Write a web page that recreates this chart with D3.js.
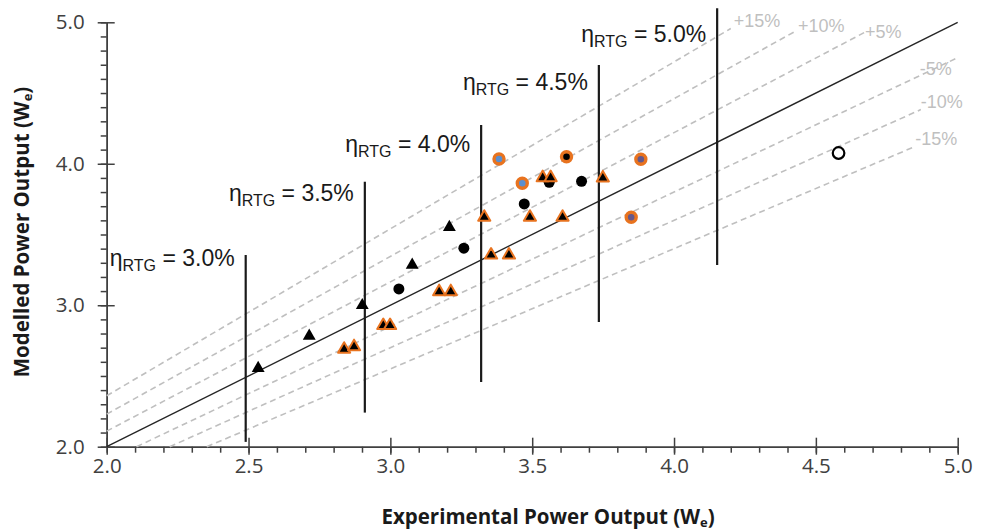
<!DOCTYPE html>
<html>
<head>
<meta charset="utf-8">
<script src="https://cdn.jsdelivr.net/npm/d3@7"></script>
<style>
  body { margin: 0; background: #fff; }
  svg { display: block; }
  .axis text { font-family: "Open Sans", sans-serif; font-size: 20.5px; fill: #404040; }
  .axis line, .axis path { stroke: #404040; stroke-width: 1.5; }
  .title { font-family: "Open Sans", sans-serif; font-size: 20.5px; font-weight: bold; fill: #1a1a1a; }
  .eta { font-family: "Liberation Sans", Arial, sans-serif; font-size: 23px; fill: #1a1a1a; }
  .pct { font-family: "Liberation Sans", Arial, sans-serif; font-size: 18px; fill: #bfbfbf; }
</style>
</head>
<body>
<div id="chart"></div>
<script>
// ---- data (x = experimental, y = modelled, in We) ----
var blackTriangles = [[2.534, 2.555], [2.714, 2.783], [2.901, 2.999], [3.077, 3.285], [3.208, 3.551]];
var blackCircles = [[3.030, 3.115], [3.259, 3.403], [3.472, 3.716], [3.560, 3.869], [3.674, 3.876]];
var orangeTriangles = [
  [2.837, 2.689], [2.872, 2.707], [2.975, 2.856], [2.999, 2.856],
  [3.172, 3.096], [3.213, 3.096], [3.331, 3.622], [3.355, 3.355],
  [3.418, 3.355], [3.492, 3.622], [3.537, 3.902], [3.565, 3.902],
  [3.607, 3.622], [3.749, 3.900]
];
var blueCircles = [[3.383, 4.034], [3.465, 3.862]];
var blackCoreCircles = [[3.621, 4.050]];
var purpleCircles = [[3.883, 4.032], [3.849, 3.622]];
var openCircles = [[4.580, 4.076]];

// efficiency lines: x, top, bottom, label and label baseline (data units)
var etaLabels = ["3.0%", "3.5%", "4.0%", "4.5%", "5.0%"];
var etaX = [2.49, 2.91, 3.32, 3.735, 4.152];
var etaTop = [3.355, 3.873, 4.274, 4.698, 5.099];
var etaBottom = [2.034, 2.241, 2.458, 2.882, 3.285];
var etaLabelY = [3.278, 3.737, 4.086, 4.522, 4.863];

// deviation lines
var pctLabels = ["+15%", "+10%", "+5%", "-5%", "-10%", "-15%"];
var pctSlopes = [1.18, 1.115, 1.055, 0.95, 0.9, 0.85];
var pctEndX = [4.2, 4.43, 4.67, 5.0, 4.87, 4.85];

var xTicks = [2.0, 2.5, 3.0, 3.5, 4.0, 4.5, 5.0];
var yTicks = [2.0, 3.0, 4.0, 5.0];

var ParityVis = function (_parentElement) {
  this.parentElement = _parentElement;
  this.initVis();
};

ParityVis.prototype.initVis = function () {
  var vis = this;

  vis.margin = { top: 22.3, right: 30.3, bottom: 85.3, left: 106.7 };
  vis.width = 988 - vis.margin.left - vis.margin.right;
  vis.height = 532 - vis.margin.top - vis.margin.bottom;

  vis.svg = d3.select("#" + vis.parentElement)
    .append("svg")
    .attr("width", 988)
    .attr("height", 532);

  vis.g = vis.svg.append("g")
    .attr("transform", "translate(" + vis.margin.left + "," + vis.margin.top + ")");

  vis.x = d3.scaleLinear().domain([2, 5]).range([0, vis.width]);
  vis.y = d3.scaleLinear().domain([2, 5]).range([vis.height, 0]);

  vis.drawAxes();
  vis.drawLines();
  vis.drawPoints();
};

ParityVis.prototype.drawAxes = function () {
  var vis = this;

  // minor ticks every 0.1
  var minor = d3.range(20, 51).map(function (d) { return d / 10; });

  vis.g.append("g")
    .attr("class", "axis")
    .attr("transform", "translate(0," + vis.height + ")")
    .call(d3.axisBottom(vis.x).tickValues(minor).tickSize(6).tickSizeOuter(0).tickFormat(""));
  vis.g.append("g")
    .attr("class", "axis")
    .call(d3.axisLeft(vis.y).tickValues(minor).tickSize(6).tickSizeOuter(0).tickFormat(""));

  var xAxis = vis.g.append("g")
    .attr("class", "axis x-axis")
    .attr("transform", "translate(0," + vis.height + ")")
    .call(d3.axisBottom(vis.x).tickValues(xTicks).tickSize(8).tickSizeOuter(0)
      .tickPadding(4).tickFormat(d3.format(".1f")));
  xAxis.selectAll(".tick").append("line").attr("y2", -9);

  var yAxis = vis.g.append("g")
    .attr("class", "axis y-axis")
    .call(d3.axisLeft(vis.y).tickValues(yTicks).tickSize(9).tickSizeOuter(0)
      .tickPadding(13).tickFormat(d3.format(".1f")));
  yAxis.selectAll(".tick").append("line").attr("x2", 8);

  // axis titles
  var xt = vis.svg.append("text")
    .attr("class", "title")
    .attr("text-anchor", "middle")
    .attr("x", 548)
    .attr("y", 524);
  xt.append("tspan").text("Experimental Power Output (W");
  xt.append("tspan").attr("font-size", "13px").attr("dy", 3).text("e");
  xt.append("tspan").attr("dy", -3).text(")");

  var yt = vis.svg.append("text")
    .attr("class", "title")
    .attr("text-anchor", "middle")
    .attr("transform", "translate(29,232) rotate(-90)");
  yt.append("tspan").text("Modelled Power Output (W");
  yt.append("tspan").attr("font-size", "13px").attr("dy", 3).text("e");
  yt.append("tspan").attr("dy", -3).text(")");
};

ParityVis.prototype.drawLines = function () {
  var vis = this;

  // dashed deviation lines
  var pctData = pctLabels.map(function (d, i) {
    var x0 = pctSlopes[i] > 1 ? 2 : 2 / pctSlopes[i];
    return { label: d, slope: pctSlopes[i], x0: x0, x1: pctEndX[i] };
  });

  vis.g.selectAll(".pct-line")
    .data(pctData)
    .enter()
    .append("line")
    .attr("class", "pct-line")
    .attr("x1", function (d) { return vis.x(d.x0); })
    .attr("y1", function (d) { return vis.y(d.x0 * d.slope); })
    .attr("x2", function (d) { return vis.x(d.x1); })
    .attr("y2", function (d) { return vis.y(d.x1 * d.slope); })
    .attr("stroke", "#bfbfbf")
    .attr("stroke-width", 1.6)
    .attr("stroke-dasharray", "6,4");

  // label offsets (px) from the line end
  var pctOffset = [[3, -2], [2, 1], [1, 5], [-6, 17], [0, -2], [0, -1]];
  vis.g.selectAll(".pct")
    .data(pctData)
    .enter()
    .append("text")
    .attr("class", "pct")
    .attr("text-anchor", function (d, i) { return i === 3 ? "end" : "start"; })
    .attr("x", function (d, i) { return vis.x(d.x1) + pctOffset[i][0]; })
    .attr("y", function (d, i) { return vis.y(d.x1 * d.slope) + pctOffset[i][1]; })
    .text(function (d) { return d.label; });

  // 1:1 line
  vis.g.append("line")
    .attr("x1", vis.x(2)).attr("y1", vis.y(2))
    .attr("x2", vis.x(5)).attr("y2", vis.y(5))
    .attr("stroke", "#262626")
    .attr("stroke-width", 1.4);

  // efficiency lines
  var etaData = etaLabels.map(function (d, i) {
    return { label: d, x: etaX[i], top: etaTop[i], bottom: etaBottom[i], ly: etaLabelY[i] };
  });

  vis.g.selectAll(".eta-line")
    .data(etaData)
    .enter()
    .append("line")
    .attr("class", "eta-line")
    .attr("x1", function (d) { return vis.x(d.x); })
    .attr("x2", function (d) { return vis.x(d.x); })
    .attr("y1", function (d) { return vis.y(d.top); })
    .attr("y2", function (d) { return vis.y(d.bottom); })
    .attr("stroke", "#1a1a1a")
    .attr("stroke-width", 2.2);

  var labels = vis.g.selectAll(".eta")
    .data(etaData)
    .enter()
    .append("text")
    .attr("class", "eta")
    .attr("text-anchor", "end")
    .attr("x", function (d) { return vis.x(d.x) - 11; })
    .attr("y", function (d) { return vis.y(d.ly); });
  labels.append("tspan").text("η");
  labels.append("tspan").attr("font-size", "16px").attr("dy", 5).text("RTG");
  labels.append("tspan").attr("dy", -5).text(function (d) { return " = " + d.label; });
};

ParityVis.prototype.drawPoints = function () {
  var vis = this;

  var tri = function (size) { return d3.symbol().type(d3.symbolTriangle).size(size)(); };
  var pos = function (d) { return "translate(" + vis.x(d[0]) + "," + vis.y(d[1]) + ")"; };

  vis.g.selectAll(".bc").data(blackCircles).enter().append("circle")
    .attr("cx", function (d) { return vis.x(d[0]); })
    .attr("cy", function (d) { return vis.y(d[1]); })
    .attr("r", 5.5)
    .attr("fill", "#000");

  vis.g.selectAll(".bt").data(blackTriangles).enter().append("path")
    .attr("d", tri(72))
    .attr("transform", pos)
    .attr("fill", "#000");

  vis.g.selectAll(".ot").data(orangeTriangles).enter().append("path")
    .attr("d", tri(64))
    .attr("transform", pos)
    .attr("fill", "#000")
    .attr("stroke", "#e8731f")
    .attr("stroke-width", 2)
    .attr("stroke-linejoin", "round");

  var ringed = [
    { pts: blueCircles, fill: "#5b8fcf" },
    { pts: blackCoreCircles, fill: "#000" },
    { pts: purpleCircles, fill: "#66588a" }
  ];
  ringed.forEach(function (s) {
    vis.g.append("g").selectAll("circle").data(s.pts).enter().append("circle")
      .attr("cx", function (d) { return vis.x(d[0]); })
      .attr("cy", function (d) { return vis.y(d[1]); })
      .attr("r", 5)
      .attr("fill", s.fill)
      .attr("stroke", "#e8731f")
      .attr("stroke-width", 3.4);
  });

  vis.g.selectAll(".oc").data(openCircles).enter().append("circle")
    .attr("cx", function (d) { return vis.x(d[0]); })
    .attr("cy", function (d) { return vis.y(d[1]); })
    .attr("r", 5.8)
    .attr("fill", "#fff")
    .attr("stroke", "#000")
    .attr("stroke-width", 2.2);
};

new ParityVis("chart");
</script>
</body>
</html>
